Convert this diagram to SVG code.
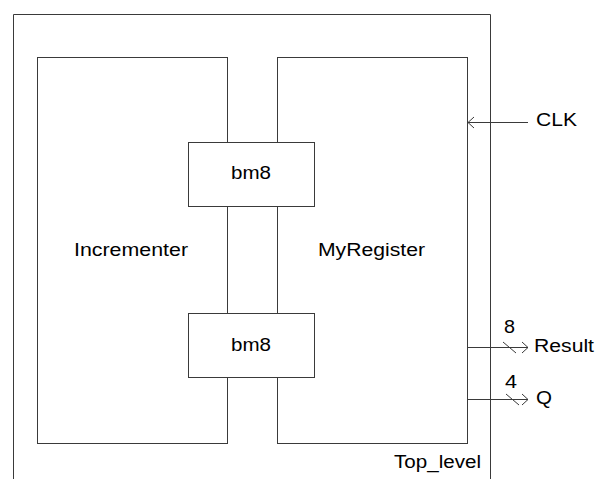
<svg xmlns="http://www.w3.org/2000/svg" width="603" height="479" viewBox="0 0 603 479">
<style>
.b{fill:#fff;stroke:#3a3a3a;stroke-width:1}
.l{fill:none;stroke:#3a3a3a;stroke-width:1}
text{font-family:"Liberation Sans",Arial,sans-serif;font-size:18px;fill:#000}
</style>
<rect width="603" height="479" fill="#fff"/>
<g id="Top_level">
<path class="l" d="M13.5,479 V14.5 H490.5 V479"/>
<text x="394" y="468" textLength="87" lengthAdjust="spacingAndGlyphs">Top_level</text>
</g>
<g id="Incrementer">
<rect class="b" x="37.5" y="57.5" width="190" height="386"/>
<text x="74" y="256" textLength="114" lengthAdjust="spacingAndGlyphs">Incrementer</text>
</g>
<g id="MyRegister">
<rect class="b" x="277.5" y="57.5" width="190" height="386"/>
<text x="318" y="256" textLength="107" lengthAdjust="spacingAndGlyphs">MyRegister</text>
</g>
<g id="bm8_top">
<rect class="b" x="188.5" y="142.5" width="126" height="64"/>
<text x="231" y="179" textLength="40" lengthAdjust="spacingAndGlyphs">bm8</text>
</g>
<g id="bm8_bottom">
<rect class="b" x="188.5" y="313.5" width="126" height="64"/>
<text x="231" y="351" textLength="40" lengthAdjust="spacingAndGlyphs">bm8</text>
</g>
<g id="connectors">
<path class="l" d="M528,122.5 H468 M474,117 L468,122.5 L474,128"/>
<path class="l" d="M467.5,347.5 H528 M522,342 L528,347.5 L522,353 M503,342 L516,353"/>
<path class="l" d="M467.5,399.5 H528 M522,394 L528,399.5 L522,405 M506,394 L519,405"/>
</g>
<g id="labels">
<text x="536" y="126" textLength="41" lengthAdjust="spacingAndGlyphs">CLK</text>
<text x="534" y="352" textLength="60" lengthAdjust="spacingAndGlyphs">Result</text>
<text x="536" y="404" textLength="16" lengthAdjust="spacingAndGlyphs">Q</text>
<text x="504" y="333" textLength="11" lengthAdjust="spacingAndGlyphs">8</text>
<text x="505" y="388" textLength="12" lengthAdjust="spacingAndGlyphs">4</text>
</g>
</svg>
